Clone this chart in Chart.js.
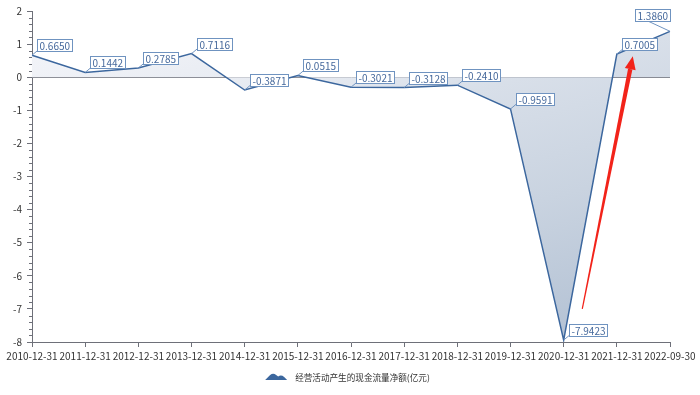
<!DOCTYPE html>
<html>
<head>
<meta charset="utf-8">
<script src="https://cdn.jsdelivr.net/npm/chart.js@4/dist/chart.umd.min.js"></script>
<style>
  html, body { margin: 0; padding: 0; background: #fff; }
  #wrap { width: 700px; height: 395px; position: relative; }
</style>
</head>
<body>
<div id="wrap"><canvas id="cashChart"></canvas></div>
<script>
// --- Dados ---
const categories = [
    '2010-12-31', '2011-12-31', '2012-12-31', '2013-12-31', '2014-12-31',
    '2015-12-31', '2016-12-31', '2017-12-31', '2018-12-31', '2019-12-31',
    '2020-12-31', '2021-12-31', '2022-09-30'
];
const netCashFlow = [
    0.6650, 0.1442, 0.2785, 0.7116, -0.3871,
    0.0515, -0.3021, -0.3128, -0.2410, -0.9591,
    -7.9423, 0.7005, 1.3860
];
const seriesName = '经营活动产生的现金流量净额(亿元)';
const yMin = -8;
const yMax = 2;
// seta vermelha (índice da categoria, valor)
const arrowStart = [10.35, -7.0];
const arrowEnd = [11.3, 0.63];

const LINE = '#3c679e';
const AXIS = '#6e7079';
const FONT = '"Noto Sans CJK SC", "Noto Sans", sans-serif';

// --- Gradiente do preenchimento ---
function areaGradient(chart) {
    const a = chart.chartArea;
    if (!a) return 'rgba(200,210,225,0.5)';
    const g = chart.ctx.createLinearGradient(a.left, a.top, a.left + 133, a.top + 474);
    g.addColorStop(0, '#f6f7fa');
    g.addColorStop(0.12, '#f0f2f7');
    g.addColorStop(0.28, '#e6eaf1');
    g.addColorStop(0.4, '#d8dfe9');
    g.addColorStop(0.65, '#c9d3e0');
    g.addColorStop(0.92, '#b5c3d5');
    g.addColorStop(1, '#adbcd0');
    return g;
}

// --- Plugin: rótulos, ticks menores, seta e legenda ---
const extrasPlugin = {
    id: 'extras',
    afterDraw(chart) {
        const ctx = chart.ctx;
        const area = chart.chartArea;
        const xs = chart.scales.x;
        const ys = chart.scales.y;

        // ticks menores no eixo y
        ctx.save();
        ctx.strokeStyle = AXIS;
        ctx.lineWidth = 1;
        for (let i = 0; i <= (yMax - yMin) * 5; i++) {
            if (i % 5 === 0) continue;
            const v = yMin + i * 0.2;
            const py = Math.round(ys.getPixelForValue(v)) + 0.5;
            ctx.beginPath();
            ctx.moveTo(area.left - 3, py);
            ctx.lineTo(area.left, py);
            ctx.stroke();
        }
        ctx.restore();

        // rótulos dos pontos
        const meta = chart.getDatasetMeta(0);
        ctx.save();
        ctx.font = '10px ' + FONT;
        ctx.textBaseline = 'middle';
        meta.data.forEach((pt, i) => {
            const text = netCashFlow[i].toFixed(4);
            const w = ctx.measureText(text).width + 4;
            const h = 12;
            let bx = pt.x + 5;
            let by = pt.y - 4 - h;
            let lx = bx + 1;
            let ly = by + h - 1;
            if (bx + w > area.right + 2) {
                bx = pt.x - w;
                by = pt.y - 10 - h;
                lx = bx + 13;
                ly = by + h;
            }
            ctx.strokeStyle = '#6f93c0';
            ctx.lineWidth = 1;
            ctx.beginPath();
            ctx.moveTo(pt.x, pt.y);
            ctx.lineTo(lx, ly);
            ctx.stroke();
            ctx.fillStyle = '#fff';
            ctx.fillRect(Math.round(bx) + 0.5, Math.round(by) + 0.5, Math.round(w), h);
            ctx.strokeRect(Math.round(bx) + 0.5, Math.round(by) + 0.5, Math.round(w), h);
            ctx.fillStyle = '#46699c';
            ctx.fillText(text, Math.round(bx) + 2.5, Math.round(by) + 0.5 + h / 2 + 0.5);
        });
        ctx.restore();

        // seta vermelha
        const x0 = xs.getPixelForValue(arrowStart[0]);
        const y0 = ys.getPixelForValue(arrowStart[1]);
        const x1 = xs.getPixelForValue(arrowEnd[0]);
        const y1 = ys.getPixelForValue(arrowEnd[1]);
        const ang = Math.atan2(y1 - y0, x1 - x0);
        const nx = -Math.sin(ang), ny = Math.cos(ang);
        const headLen = 13, headW = 5.5;
        const hx = x1 - Math.cos(ang) * headLen;
        const hy = y1 - Math.sin(ang) * headLen;
        ctx.save();
        ctx.fillStyle = '#f2231a';
        ctx.beginPath();
        ctx.moveTo(x0 + nx * 0.6, y0 + ny * 0.6);
        ctx.lineTo(hx + nx * 2.2, hy + ny * 2.2);
        ctx.lineTo(hx - nx * 2.2, hy - ny * 2.2);
        ctx.lineTo(x0 - nx * 0.6, y0 - ny * 0.6);
        ctx.closePath();
        ctx.fill();
        ctx.beginPath();
        ctx.moveTo(x1, y1);
        ctx.lineTo(hx + nx * headW, hy + ny * headW);
        ctx.lineTo(hx - nx * headW, hy - ny * headW);
        ctx.closePath();
        ctx.fill();
        ctx.restore();

        // legenda
        ctx.save();
        ctx.font = '8.6px ' + FONT;
        const tw = ctx.measureText(seriesName).width;
        const total = 22 + 9 + tw;
        const lx0 = chart.width / 2 - 2 - total / 2;
        const cy = 377;
        ctx.fillStyle = LINE;
        ctx.beginPath();
        ctx.moveTo(lx0, cy + 3);
        ctx.lineTo(lx0 + 5, cy - 2);
        ctx.quadraticCurveTo(lx0 + 8, cy - 4.5, lx0 + 11, cy - 2);
        ctx.lineTo(lx0 + 13, cy - 0.5);
        ctx.quadraticCurveTo(lx0 + 16, cy - 2.5, lx0 + 19, cy);
        ctx.lineTo(lx0 + 22, cy + 3);
        ctx.closePath();
        ctx.fill();
        ctx.fillStyle = '#333';
        ctx.textBaseline = 'middle';
        ctx.fillText(seriesName, lx0 + 30, cy + 1);
        ctx.restore();
    }
};

// --- Gráfico ---
function inicializarGrafico() {
    const ctx = document.getElementById('cashChart');
    new Chart(ctx, {
        type: 'line',
        data: {
            labels: categories,
            datasets: [{
                label: seriesName,
                data: netCashFlow,
                borderColor: LINE,
                borderWidth: 1.5,
                pointRadius: 0,
                tension: 0,
                fill: 'origin',
                backgroundColor: (c) => areaGradient(c.chart)
            }]
        },
        options: {
            responsive: true,
            maintainAspectRatio: false,
            animation: false,
            layout: { padding: { top: 10, right: 30, bottom: 33, left: 0 } },
            plugins: {
                legend: { display: false },
                tooltip: { enabled: false }
            },
            scales: {
                x: {
                    offset: false,
                    grid: {
                        offset: false,
                        drawOnChartArea: false,
                        tickLength: 5,
                        tickColor: AXIS
                    },
                    border: { color: AXIS },
                    ticks: {
                        color: '#333',
                        font: { family: FONT, size: 10 },
                        maxRotation: 0,
                        autoSkip: false,
                        padding: 3
                    },
                    afterFit(scale) { scale.height = 20; }
                },
                y: {
                    min: yMin,
                    max: yMax,
                    grid: {
                        color: (c) => (c.tick && c.tick.value === 0) ? AXIS : 'rgba(0,0,0,0)',
                        tickColor: AXIS,
                        tickLength: 5
                    },
                    border: { color: AXIS },
                    ticks: {
                        stepSize: 1,
                        color: '#333',
                        font: { family: FONT, size: 10 },
                        padding: 5
                    },
                    afterFit(scale) { scale.width = 32; }
                }
            }
        },
        plugins: [extrasPlugin]
    });
}

window.onload = inicializarGrafico;
</script>
</body>
</html>
